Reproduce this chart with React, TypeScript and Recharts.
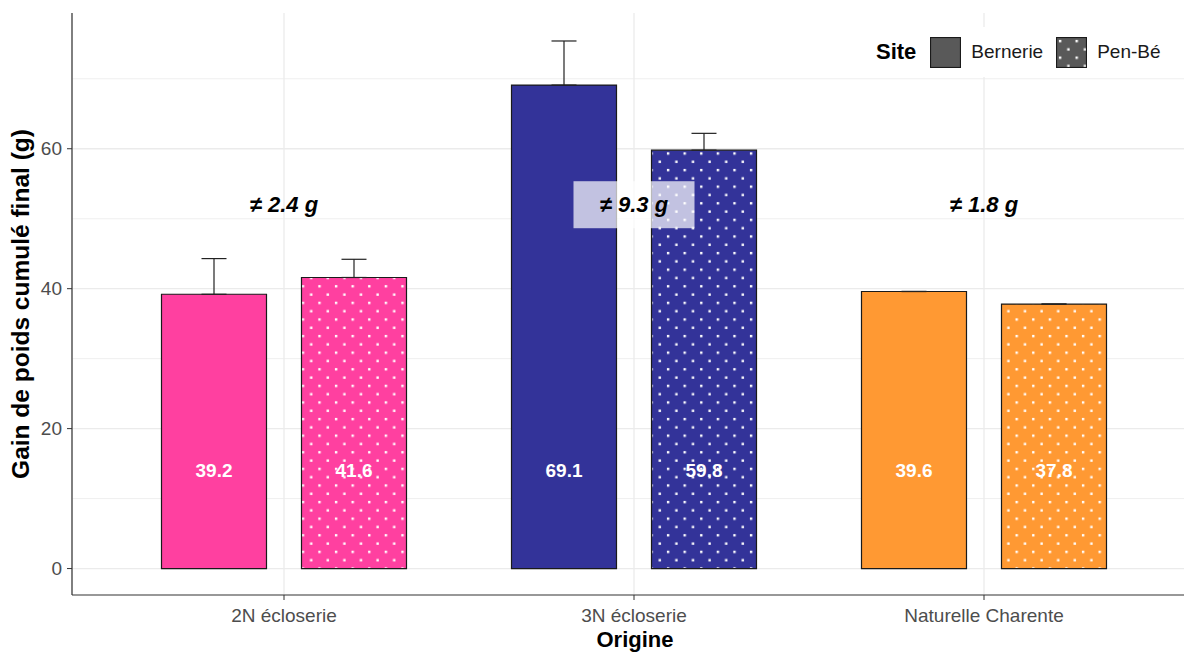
import React from 'react';
import {
  BarChart,
  Bar,
  XAxis,
  YAxis,
  CartesianGrid,
  ErrorBar,
  LabelList,
  Legend,
  ReferenceDot,
  Cell,
} from 'recharts';

const categories = ['2N écloserie', '3N écloserie', 'Naturelle Charente'];
const sites = ['Bernerie', 'Pen-Bé'];
const bernerie = [39.2, 69.1, 39.6];
const penBe = [41.6, 59.8, 37.8];
// erreur standard (barre vers le haut seulement), 0 = pas de barre
const bernerieSe = [5.1, 6.3, 0];
const penBeSe = [2.6, 2.4, 0];
const diffLabels = ['≠ 2.4 g', '≠ 9.3 g', '≠ 1.8 g'];
const diffBoxed = [false, true, false];
const diffY = 52;
const labelY = 14;
const colors = ['#FF40A0', '#333399', '#FF9933'];
const yTicks = [0, 20, 40, 60];
const yMinor = [10, 30, 50, 70];
const yDomain = [-3.78, 79.4];

const FONT = '"Liberation Sans", Arial, Helvetica, sans-serif';

const data = categories.map((c, i) => ({
  origine: c,
  bernerie: bernerie[i],
  penBe: penBe[i],
  bernerieErr: [0, bernerieSe[i]],
  penBeErr: [0, penBeSe[i]],
}));

const DotPattern = ({ id, color }: { id: string; color: string }) => (
  <pattern id={id} width={16.6} height={16.6} patternUnits="userSpaceOnUse">
    <rect width={16.6} height={16.6} fill={color} />
    <rect x={2.9} y={2.9} width={2.4} height={2.4} fill="#fff" />
    <rect x={11.2} y={11.2} width={2.4} height={2.4} fill="#fff" />
  </pattern>
);

const renderValueLabel = (props: any) => {
  const { x, y, width, height, value } = props;
  if (value == null || !height) return null;
  const base = Number(y) + Number(height);
  const ly = base - (Number(height) * labelY) / Number(value);
  return (
    <text
      x={Number(x) + Number(width) / 2}
      y={ly}
      fill="#fff"
      fontSize={19}
      fontWeight="bold"
      fontFamily={FONT}
      textAnchor="middle"
      dominantBaseline="central"
    >
      {Number(value).toFixed(1)}
    </text>
  );
};

const diffLabel = (text: string, boxed: boolean) => (props: any) => {
  const vb = props.viewBox || {};
  const cx = vb.x + (vb.width || 0) / 2;
  const cy = vb.y + (vb.height || 0) / 2;
  return (
    <g>
      {boxed && (
        <rect x={cx - 60.5} y={cy - 23.5} width={121} height={47} fill="#fff" fillOpacity={0.7} />
      )}
      <text
        x={cx}
        y={cy}
        fontSize={22}
        fontWeight="bold"
        fontStyle="italic"
        fontFamily={FONT}
        fill="#000"
        textAnchor="middle"
        dominantBaseline="central"
      >
        {text}
      </text>
    </g>
  );
};

const renderLegend = () => (
  <div
    style={{
      display: 'flex',
      alignItems: 'center',
      height: 50,
      width: 309,
      background: '#fff',
      paddingLeft: 13,
      fontFamily: FONT,
      boxSizing: 'border-box',
      whiteSpace: 'nowrap',
    }}
  >
    <span style={{ fontSize: 22, fontWeight: 'bold', color: '#000', marginRight: 14 }}>Site</span>
    {sites.map((s, i) => (
      <span key={s} style={{ display: 'flex', alignItems: 'center', marginRight: i === 0 ? 13 : 0 }}>
        <svg width={31} height={31} style={{ marginRight: 10, flex: 'none' }}>
          <defs>
            <DotPattern id="legend-dots" color="#595959" />
          </defs>
          <rect
            x={0.5}
            y={0.5}
            width={30}
            height={30}
            fill={i === 0 ? '#595959' : 'url(#legend-dots)'}
            stroke="#1a1a1a"
            strokeWidth={1.2}
          />
        </svg>
        <span style={{ fontSize: 19, color: '#1a1a1a' }}>{s}</span>
      </span>
    ))}
  </div>
);

export default function App() {
  return (
    <div style={{ width: 1184, height: 655, overflow: 'hidden', position: 'relative', background: '#fff' }}>
      <style>{'body{margin:0}'}</style>
      <BarChart
        width={1200}
        height={655}
        data={data}
        margin={{ top: 13, right: 6, bottom: 0, left: 0 }}
        barCategoryGap={52.5}
        barGap={35}
      >
        <defs>
          {colors.map((c, i) => (
            <DotPattern key={i} id={`dots-${i}`} color={c} />
          ))}
        </defs>
        <CartesianGrid
          horizontalValues={yMinor}
          vertical={false}
          stroke="#ebebeb"
          strokeWidth={0.8}
        />
        <CartesianGrid horizontalValues={yTicks} stroke="#ebebeb" strokeWidth={1.3} />
        <XAxis
          dataKey="origine"
          height={60}
          padding={{ left: 37, right: 35 }}
          tickSize={5}
          tickMargin={9}
          axisLine={{ stroke: '#333', strokeWidth: 1.2 }}
          tickLine={{ stroke: '#333' }}
          tick={{ fill: '#4d4d4d', fontSize: 19, fontFamily: FONT }}
          label={(p: any) => {
            const vb = p.viewBox;
            return (
              <text
                x={vb.x + vb.width / 2 + 2}
                y={647}
                textAnchor="middle"
                fontSize={22}
                fontWeight="bold"
                fontFamily={FONT}
                fill="#000"
              >
                Origine
              </text>
            );
          }}
        />
        {/* bordure haute du panneau */}
        <XAxis
          xAxisId="top"
          dataKey="origine"
          orientation="top"
          height={0}
          tick={false}
          tickLine={false}
          axisLine={{ stroke: '#333', strokeWidth: 1.2 }}
        />
        <YAxis
          type="number"
          width={72}
          domain={yDomain}
          ticks={yTicks}
          allowDataOverflow
          tickSize={5}
          tickMargin={5}
          axisLine={{ stroke: '#333', strokeWidth: 1.2 }}
          tickLine={{ stroke: '#333' }}
          tick={{ fill: '#4d4d4d', fontSize: 19, fontFamily: FONT }}
          label={(p: any) => {
            const vb = p.viewBox;
            const cy = vb.y + vb.height / 2;
            return (
              <text
                x={29}
                y={cy}
                transform={`rotate(-90 29 ${cy})`}
                textAnchor="middle"
                fontSize={24.5}
                fontWeight="bold"
                fontFamily={FONT}
                fill="#000"
              >
                Gain de poids cumulé final (g)
              </text>
            );
          }}
        />
        <Bar
          dataKey="bernerie"
          name={sites[0]}
          stroke="#1a1a1a"
          strokeWidth={1.2}
          isAnimationActive={false}
        >
          {data.map((_, i) => (
            <Cell key={i} fill={colors[i]} />
          ))}
          <ErrorBar dataKey="bernerieErr" width={12.5} stroke="#222" strokeWidth={1.2} direction="y" />
          <LabelList dataKey="bernerie" content={renderValueLabel} />
        </Bar>
        <Bar
          dataKey="penBe"
          name={sites[1]}
          stroke="#1a1a1a"
          strokeWidth={1.2}
          isAnimationActive={false}
        >
          {data.map((_, i) => (
            <Cell key={i} fill={`url(#dots-${i})`} />
          ))}
          <ErrorBar dataKey="penBeErr" width={12.5} stroke="#222" strokeWidth={1.2} direction="y" />
          <LabelList dataKey="penBe" content={renderValueLabel} />
        </Bar>
        {categories.map((c, i) => (
          <ReferenceDot
            key={c}
            x={c}
            y={diffY}
            r={1}
            fill="none"
            stroke="none"
            label={diffLabel(diffLabels[i], diffBoxed[i])}
          />
        ))}
        <Legend
          layout="vertical"
          align="center"
          verticalAlign="middle"
          wrapperStyle={{ left: 863, top: 27, width: 309, height: 50 }}
          content={renderLegend}
        />
      </BarChart>
    </div>
  );
}
